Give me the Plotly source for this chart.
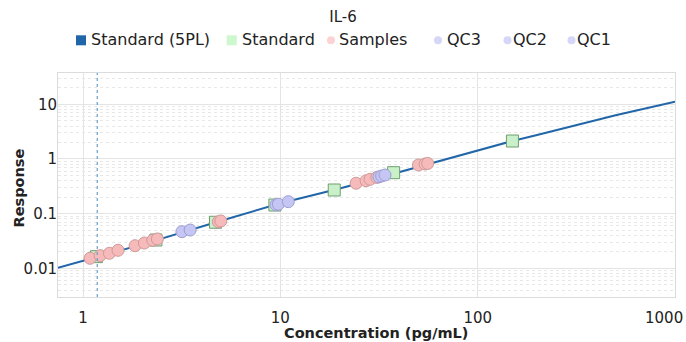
import plotly.graph_objects as go

# ---- data ----
curve_conc = [0.746, 1, 2, 5, 10, 20, 50, 100, 150, 200, 500, 1000]
curve_resp = [0.0103, 0.0139, 0.0275, 0.0745, 0.155, 0.288, 0.724, 1.41, 2.14, 2.75, 6.31, 11.2]

std_conc = [1.17, 2.34, 4.69, 9.38, 18.75, 37.5, 150]
std_resp = [0.0164, 0.033, 0.0697, 0.144, 0.271, 0.562, 2.13]

sample_conc = [1.085, 1.22, 1.36, 1.504, 1.835, 2.045, 2.256, 2.38, 4.85, 4.99,
               24.2, 27.2, 28.5, 30.8, 50.1, 54.1, 55.8]
sample_resp = [0.0153, 0.0171, 0.0189, 0.0214, 0.026, 0.0291, 0.0326, 0.0345, 0.071, 0.0736,
               0.36, 0.40, 0.425, 0.46, 0.776, 0.81, 0.83]

qc3_conc = [31.6, 32.6, 33.9]
qc3_resp = [0.472, 0.489, 0.509]
qc2_conc = [9.5, 9.77, 10.97]
qc2_resp = [0.145, 0.149, 0.166]
qc1_conc = [3.17, 3.49]
qc1_resp = [0.0469, 0.0503]

lloq = 1.18

legend_names = ["Standard (5PL)", "Standard", "Samples", "QC3", "QC2", "QC1"]

x_tickvals = [1, 10, 100, 1000]
x_ticktext = ["1", "10", "100", ""]
last_x_label = "1000"
y_tickvals = [0.01, 0.1, 1, 10]
y_ticktext = ["0.01", "0.1", "1", "10"]

# ---- styling / layout ----
FONT = "DejaVu Sans"
TXT = "#222222"
LINE_C = "#2166a8"
STD_FILL, STD_LINE = "#c9f0c9", "#6f9f6f"
SMP_FILL, SMP_LINE = "#f6baba", "#cf9a9a"
QC_FILL, QC_LINE = "#c6c6f4", "#9d9dd2"

W, H = 686, 342
ML, MR, MT, MB = 58, 11, 73, 45
PW, PH = W - ML - MR, H - MT - MB


def px_x(p):
    return (p - ML) / PW


def px_y(p):
    return (H - MB - p) / PH


fig = go.Figure()

fig.add_trace(go.Scatter(x=curve_conc, y=curve_resp, mode="lines", name=legend_names[0],
                         line=dict(color=LINE_C, width=2), showlegend=False, hoverinfo="skip"))
fig.add_trace(go.Scatter(x=std_conc, y=std_resp, mode="markers", name=legend_names[1],
                         showlegend=False,
                         marker=dict(symbol="square", size=12, color=STD_FILL,
                                     line=dict(color=STD_LINE, width=1))))
fig.add_trace(go.Scatter(x=sample_conc, y=sample_resp, mode="markers", name=legend_names[2],
                         showlegend=False,
                         marker=dict(symbol="circle", size=12, color=SMP_FILL,
                                     line=dict(color=SMP_LINE, width=1))))
for nm, cx, cy in [(legend_names[3], qc3_conc, qc3_resp),
                   (legend_names[4], qc2_conc, qc2_resp),
                   (legend_names[5], qc1_conc, qc1_resp)]:
    fig.add_trace(go.Scatter(x=cx, y=cy, mode="markers", name=nm, showlegend=False,
                             marker=dict(symbol="circle", size=12, color=QC_FILL,
                                         line=dict(color=QC_LINE, width=1))))

# LLOQ marker line
fig.add_shape(type="line", xref="x", yref="paper", x0=lloq, x1=lloq, y0=0, y1=1,
              line=dict(color="#6a9ec8", width=1.2, dash="dot"))

# ---- hand-drawn legend (symbol close to text, as in the reference) ----
leg_sym = [("rect", 10, LINE_C), ("rect", 10, "#cdf7cd"), ("circle", 8, "#fcd2d2"),
           ("circle", 8, "#d6d6f8"), ("circle", 8, "#d6d6f8"), ("circle", 8, "#d6d6f8")]
leg_sym_x = [81, 231.7, 331, 438, 507.5, 571.5]
leg_txt_x = [88.5, 240, 336.5, 445, 511, 575]
LEG_Y = 40.3
annotations = []
for name, (shp, sz, col), sx, tx in zip(legend_names, leg_sym, leg_sym_x, leg_txt_x):
    h = sz / 2
    fig.add_shape(type=shp, xref="paper", yref="paper", xsizemode="pixel", ysizemode="pixel",
                  xanchor=px_x(sx), yanchor=px_y(LEG_Y), x0=-h, x1=h, y0=-h, y1=h,
                  fillcolor=col, line=dict(width=0), layer="above")
    annotations.append(dict(text=name, xref="paper", yref="paper", x=px_x(tx), y=px_y(LEG_Y - 0.5),
                            xanchor="left", yanchor="middle", showarrow=False,
                            font=dict(size=16, color=TXT)))

# axis titles and the right-most tick label (kept inside the page like the reference)
annotations.append(dict(text="<b>Concentration (pg/mL)</b>", xref="paper", yref="paper",
                        x=px_x(375.5), y=px_y(332.5), xanchor="center", yanchor="middle",
                        showarrow=False, font=dict(size=14.5, color=TXT)))
annotations.append(dict(text="<b>Response</b>", xref="paper", yref="paper", textangle=-90,
                        x=px_x(18.5), y=px_y(188), xanchor="center", yanchor="middle",
                        showarrow=False, font=dict(size=14.5, color=TXT)))
annotations.append(dict(text=last_x_label, xref="paper", yref="paper",
                        x=px_x(684.5), y=px_y(318), xanchor="right", yanchor="middle",
                        showarrow=False, font=dict(size=15, color=TXT)))

fig.update_layout(
    width=W, height=H,
    margin=dict(l=ML, r=MR, t=MT, b=MB),
    paper_bgcolor="white", plot_bgcolor="white",
    font=dict(family=FONT, size=15, color=TXT),
    showlegend=False,
    title=dict(text="IL-6", x=0.5, xref="container", xanchor="center",
               y=1 - 17 / H, yref="container", yanchor="middle",
               font=dict(size=15, color=TXT)),
    annotations=annotations,
    xaxis=dict(type="log", range=[-0.127, 3.0], tickvals=x_tickvals, ticktext=x_ticktext,
               showgrid=True, gridcolor="#e4e4e4", gridwidth=1,
               showline=True, linecolor="#dcdcdc", mirror=True,
               ticks="", ticklabelstandoff=7, automargin=False, zeroline=False),
    yaxis=dict(type="log", range=[-2.523, 1.572], tickvals=y_tickvals, ticktext=y_ticktext,
               showgrid=True, gridcolor="#e4e4e4", gridwidth=1,
               minor=dict(showgrid=True, gridcolor="#e8e8e8", griddash="dot",
                          tickvals=[m * 10 ** e for e in range(-3, 2) for m in range(2, 10)]),
               showline=True, linecolor="#dcdcdc", mirror=True,
               ticks="", ticklabelstandoff=-3, automargin=False, zeroline=False),
)

fig.write_html("out.html")
